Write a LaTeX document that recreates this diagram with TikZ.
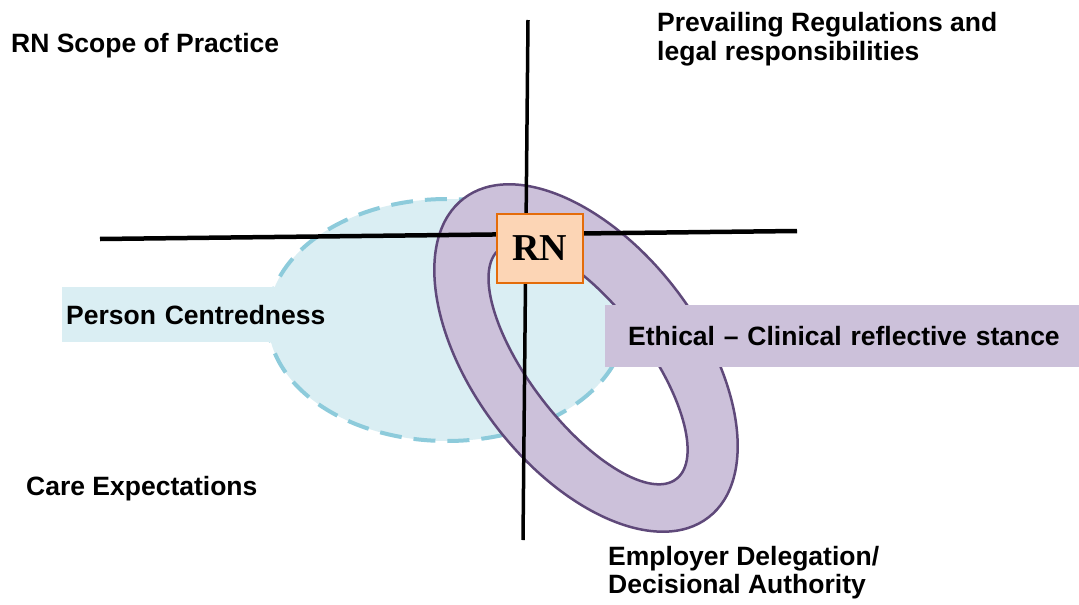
\documentclass[tikz,border=0pt]{standalone}
\usepackage{fontspec}
\setmainfont{Liberation Sans}
\newfontfamily\rnfont{Liberation Serif}
\definecolor{bluefill}{HTML}{DAEEF3}
\definecolor{bluedash}{HTML}{8DCBDB}
\definecolor{purplefill}{HTML}{CCC1DA}
\definecolor{purpleline}{HTML}{5F497A}
\definecolor{rnfill}{HTML}{FCD5B5}
\definecolor{rnline}{HTML}{E46C0A}
\begin{document}
\begin{tikzpicture}[x=1pt,y=1pt,
  lbl/.style={font=\fontsize{26.5}{29}\selectfont\bfseries, inner sep=0pt, anchor=base west, align=left},
  boxlbl/.style={font=\fontsize{26.5}{29}\selectfont\bfseries, anchor=north west, inner ysep=0pt, align=left},
  axisline/.style={black, line width=#1}]
\useasboundingbox (0,0) rectangle (1079,-605);
% light blue dashed ellipse
\draw[fill=bluefill, draw=bluedash, line width=4pt, dash pattern=on 22pt off 12pt] (447,-320) ellipse [x radius=179, y radius=121];
% Person Centredness band
\node (pc) [boxlbl, fill=bluefill, minimum height=55pt, inner xsep=4pt, text width=292pt] at (62,-287) {Person Centredness};
% purple ring
\begin{scope}[shift={(586,-358)}, rotate=-52.5]
\fill[purplefill, even odd rule] (0,0) ellipse [x radius=201, y radius=113] (6,-2) ellipse [x radius=145, y radius=58];
\draw[purpleline, line width=2.5pt] (0,0) ellipse [x radius=201, y radius=113] (6,-2) ellipse [x radius=145, y radius=58];
\end{scope}
% Ethical band
\node (eth) [boxlbl, fill=purplefill, minimum height=62pt, inner xsep=23pt, text width=440pt] at (605,-305) {Ethical – Clinical reflective stance};
% axes
\coordinate (hL) at (100,-239);
\coordinate (hR) at (797,-231);
\coordinate (vT) at (528,-20);
\coordinate (vB) at (523,-540);
\draw[axisline=4.5pt] (hL) -- (hR);
\draw[axisline=3.5pt] (vT) -- (vB);
% RN box
\node (rn) [draw=rnline, fill=rnfill, line width=2.5pt, minimum width=86pt, minimum height=69pt, inner sep=0pt, font=\rnfont\fontsize{38}{42}\selectfont\bfseries] at (540,-248.5) {RN};
% quadrant labels
\node (scope) [lbl] at (11,-52) {RN Scope of Practice};
\node (prev) [lbl] at (657,-60) {Prevailing Regulations and\\legal responsibilities};
\node (care) [lbl] at (26,-495) {Care Expectations};
\node (emp) [lbl, font=\fontsize{26.5}{28}\selectfont\bfseries] at (608,-593) {Employer Delegation/\\Decisional Authority};
\end{tikzpicture}
\end{document}
